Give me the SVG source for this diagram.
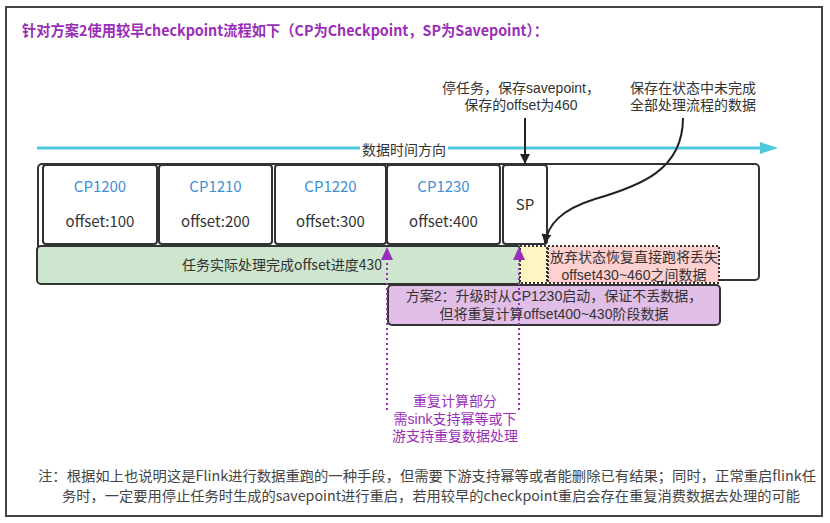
<svg xmlns="http://www.w3.org/2000/svg" width="830" height="523" viewBox="0 0 830 523">
<style>
text{font-family:"Noto Sans CJK SC","Noto Sans",sans-serif;}
.ml{font-family:"Liberation Sans","Noto Sans CJK SC",sans-serif;}
.t{font-size:14px;fill:#333;text-anchor:middle;}
.cp{font-size:15px;fill:#3d8fd6;text-anchor:middle;}
.off{font-size:15px;fill:#333;text-anchor:middle;}
.box{fill:#fff;stroke:#333;stroke-width:2;}
.pt{font-size:14px;fill:#9a2eb8;text-anchor:middle;}
.dot{stroke:#9a2eb8;stroke-width:2;stroke-dasharray:2,3;fill:none;}
</style>
<defs>
<marker id="ac" markerWidth="10" markerHeight="10" refX="9" refY="5" orient="auto" markerUnits="userSpaceOnUse" viewBox="0 0 10 10">
<path d="M0,0 L10,5 L0,10 z" fill="#222"/>
</marker>
</defs>
<rect x="6" y="7" width="816" height="509" fill="#fff" stroke="#444" stroke-width="2"/>
<g id="title"><text x="22" y="36" font-size="15" font-weight="bold" fill="#9a2eb8" textLength="526" lengthAdjust="spacingAndGlyphs">针对方案2使用较早checkpoint流程如下（CP为Checkpoint，SP为Savepoint）：</text></g>
<g id="timeline">
<line x1="37" y1="148" x2="762" y2="148" stroke="#4dc9dc" stroke-width="3"/>
<path d="M760,142 L778,148 L760,154 z" fill="#4dc9dc"/>
<rect x="360" y="140" width="88" height="18" fill="#fff"/>
<text class="t" x="404" y="155">数据时间方向</text>
</g>
<g id="container"><rect class="box" x="38" y="164" width="721" height="116" rx="4"/></g>
<g id="cp1200"><rect class="box" x="43" y="165" width="114" height="79" rx="3"/><text class="cp" x="100" y="192">CP1200</text><text class="off" x="100" y="227">offset:100</text></g>
<g id="cp1210"><rect class="box" x="159" y="165" width="113" height="79" rx="3"/><text class="cp" x="215.5" y="192">CP1210</text><text class="off" x="215.5" y="227">offset:200</text></g>
<g id="cp1220"><rect class="box" x="275" y="165" width="111" height="79" rx="3"/><text class="cp" x="330.5" y="192">CP1220</text><text class="off" x="330.5" y="227">offset:300</text></g>
<g id="cp1230"><rect class="box" x="387" y="165" width="113" height="79" rx="3"/><text class="cp" x="443.5" y="192">CP1230</text><text class="off" x="443.5" y="227">offset:400</text></g>
<g id="sp"><rect class="box" x="503" y="165" width="44" height="79" rx="3"/><text class="off" x="525" y="210">SP</text></g>
<g id="progress"><rect x="37" y="246" width="484" height="38" rx="4" fill="#cde6cd" stroke="#333" stroke-width="2"/><text class="t" x="282" y="270" font-size="15">任务实际处理完成offset进度430</text></g>
<g id="gap"><rect x="520" y="246" width="27" height="37" fill="#fff5c2" stroke="#333" stroke-width="2" stroke-dasharray="2,2"/></g>
<g id="lost"><rect x="548" y="246" width="171" height="37" fill="#ffd0d0" stroke="#333" stroke-width="2" stroke-dasharray="2,2"/><text class="t ml" x="634" y="262">放弃状态恢复直接跑将丢失<tspan x="634" dy="18">offset430~460之间数据</tspan></text></g>
<g id="plan2"><rect x="388" y="285" width="332" height="40" rx="4" fill="#e1bee7" stroke="#333" stroke-width="2"/><text class="t ml" x="554" y="301">方案2：升级时从CP1230启动，保证不丢数据，<tspan x="554" dy="18">但将重复计算offset400~430阶段数据</tspan></text></g>
<g id="note-sp"><text class="t ml" x="521" y="93">停任务，保存savepoint，<tspan x="521" dy="17">保存的offset为460</tspan></text></g>
<g id="note-state"><text class="t ml" x="693" y="93">保存在状态中未完成<tspan x="693" dy="17">全部处理流程的数据</tspan></text></g>
<g id="note-recompute"><text class="pt ml" x="455" y="406">重复计算部分<tspan x="455" dy="17.5">需sink支持幂等或下</tspan><tspan x="455" dy="17.5">游支持重复数据处理</tspan></text></g>
<g id="note-bottom"><text x="38" y="481" font-size="14" fill="#444" textLength="778" lengthAdjust="spacingAndGlyphs">注：根据如上也说明这是Flink进行数据重跑的一种手段，但需要下游支持幂等或者能删除已有结果；同时，正常重启flink任</text><text x="62" y="501" font-size="14" fill="#444" textLength="738" lengthAdjust="spacingAndGlyphs">务时，一定要用停止任务时生成的savepoint进行重启，若用较早的checkpoint重启会存在重复消费数据去处理的可能</text></g>
<g id="connectors">
<line x1="525" y1="118" x2="525" y2="163" stroke="#222" stroke-width="2" marker-end="url(#ac)"/>
<path d="M683,118 C683,170 640,186 595,199 C560,210 548,225 545,243" fill="none" stroke="#222" stroke-width="2" marker-end="url(#ac)"/>
<line class="dot" x1="387" y1="258" x2="387" y2="413"/>
<path d="M381,260 L387,247 L393,260 z" fill="#9a2eb8"/>
<line class="dot" x1="519" y1="258" x2="519" y2="413"/>
<path d="M513,260 L519,247 L525,260 z" fill="#9a2eb8"/>
</g>
</svg>
